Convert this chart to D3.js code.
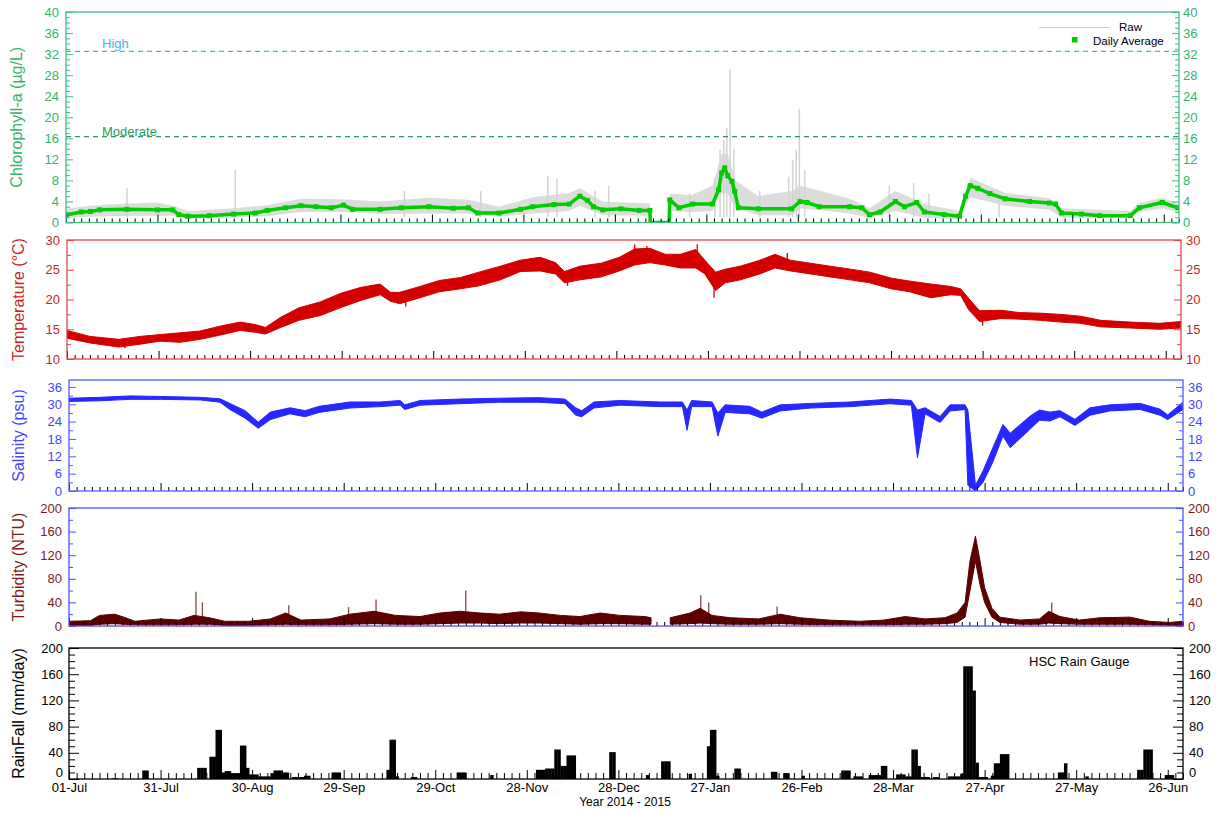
<!DOCTYPE html>
<html>
<head>
<meta charset="utf-8">
<script src="https://cdn.jsdelivr.net/npm/d3@7"></script>
<style>
  body { margin: 0; background: #fff; }
  svg { display: block; }
</style>
</head>
<body>
<div id="chart"></div>
<script>
const W = 1216, H = 814;
const FONT = "Arial, 'Liberation Sans', sans-serif";

// x axis: day number from 01-Jul-2014, a label every 30 days
const xTickLabels = ["01-Jul", "31-Jul", "30-Aug", "29-Sep", "29-Oct", "28-Nov", "28-Dec",
                     "27-Jan", "26-Feb", "28-Mar", "27-Apr", "27-May", "26-Jun"];

// chlorophyll daily average [day, ug/L] (0 = logger gap)
const chlAvg = [
  [0,1.4],[5,2.0],[8,2.1],[11,2.4],[20,2.5],[30,2.4],[35,2.4],[37,1.5],[40,1.2],[47,1.3],
  [55,1.6],[62,1.8],[66,2.3],[72,2.8],[77,3.2],[82,3.0],[87,2.8],[91,3.3],[94,2.5],[103,2.5],
  [110,2.8],[119,3.0],[127,2.7],[132,2.8],[135,1.8],[142,1.8],[149,2.5],[153,3.0],[160,3.4],
  [165,3.5],[168.5,5.0],[171,4.2],[173,3.0],[176,2.4],[182,2.6],[188,2.3],[191.5,2.3],
  [191.6,0],[197.8,0],[198,4.3],[201,2.8],[205.5,3.5],[212,3.5],[214,6.2],[215,9.4],[216,10.4],
  [217,8.9],[218.4,7.8],[219.3,5.9],[220.5,2.8],[227,2.6],[238,2.6],[240.7,4.0],[243,3.8],
  [247,3.0],[257,3.0],[261,2.8],[263.5,1.5],[267,2.0],[272,4.0],[275,3.0],[279,3.8],[281.5,2.0],
  [288,1.5],[293,1.2],[295,5.0],[296.5,7.0],[299,6.5],[303,5.5],[308,4.5],[316,4.0],[322.5,3.7],
  [324.5,3.5],[326.5,1.8],[333,1.6],[339,1.3],[349,1.3],[352,2.8],[359.5,3.8],[364.6,2.8]
];
// chlorophyll raw spread [day, low, high]
const chlRaw = [
  [0,0.9,2.6],[8,1.1,3.2],[20,1.3,3.6],[30,1.3,3.8],[35,1.3,3.2],[40,0.7,2.2],[55,0.9,2.7],
  [66,1.2,3.3],[77,2,4.5],[91,2,4.4],[103,1.6,4],[119,1.7,4.7],[132,1.7,4.3],[142,1.1,3],
  [153,1.7,4.8],[165,2.2,5.6],[168.5,3.2,6.5],[176,1.4,4],[191.5,1.3,3.6],[191.6,0,0],
  [197.8,0,0],[198,2.2,5.5],[205,2,5.2],[212,2.2,7],[215,5.5,13],[217,5.5,13],[219.5,2.7,8],
  [227,1.4,5],[238,1.4,6],[241,2.7,7],[257,1.7,4.5],[263.5,0.9,2.7],[272,2.2,6],[281.5,0.9,3.5],
  [293,0.6,2.2],[296.5,4.8,8.5],[308,3.2,5.6],[322.5,2.4,4.6],[326.5,0.9,2.7],[349,0.8,2.2],
  [352,2,3.7],[359.5,2.7,4.7],[364.6,2,3.7]
];
// single raw chlorophyll spikes [day, ug/L]
const chlSpikes = [
  [20,6.5],[55.5,10],[111,6],[136,6],[158,8.8],[161,8.3],[173.5,6],[178,7],[204.5,5.5],
  [212.8,8.5],[214.5,13.8],[215.7,15.7],[216.7,18],[217.8,29.1],[219,14],[227.5,6],[237,8.7],
  [238.3,11.9],[239.5,13.8],[240.5,21.6],[242.3,10],[270,7],[278,7.5],[283,5.5],[306,5.5]
];
const chlLevelNames = ["High", "Moderate"];
const chlLevelValues = [32.5, 16.3];

// temperature spread [day, low, high] degC
const tempBand = [
  [0,13.5,14.8],[7.5,12.7,13.8],[17,12,13.3],[24,12.5,13.8],[30.5,13,14.1],[37,12.8,14.4],
  [43.6,13.3,14.7],[50,14,15.5],[56.7,14.8,16.2],[61.6,14.5,15.8],[65,14.2,15.3],[70,15.3,17],
  [76,16.5,18.6],[83,17.3,19.6],[89.5,18.6,21],[96,19.8,22],[102.6,20.8,22.6],[106,19.7,21.2],
  [109,19.3,21.2],[115.7,20.3,22.2],[122,21.3,23.2],[129,21.8,23.7],[135,22.3,24.6],
  [142,23.3,25.6],[148.5,24.7,26.6],[155,24.8,27.1],[160,24.3,26.2],[163,22.8,24.7],
  [168,23.3,25.6],[175,23.8,26.1],[181,24.8,27.1],[186,25.8,28.5],[191,26.2,28.6],
  [196,25.8,27.6],[201,25.3,27.6],[206,25.3,28.4],[209,24.3,26.6],[212.5,21.5,24.6],
  [215.7,22.8,25.1],[220.6,23.3,25.6],[227,24.3,26.6],[232,25.3,27.6],[237,24.8,26.6],
  [243.6,24.3,26.1],[250,23.8,25.6],[256.7,23.3,25.1],[263,22.8,24.6],[270,21.8,23.6],
  [276,21.3,23.1],[283,20.3,22.6],[289.5,20.8,22.2],[292.8,20.7,21.8],[295.4,18.3,20.2],
  [299,16.3,18.1],[306,16.8,18.2],[312,16.7,17.8],[319,16.5,17.7],[325.6,16.2,17.5],
  [332,16,17.2],[338.7,15.4,16.5],[348.5,15.2,16.2],[358,15,16],[365,15.2,16.3]
];
// single temperature spikes [day, from, to] degC
const tempSpikes = [
  [19,12.5,11.8],[111,20,18.8],[186,27,29.3],[190,27,29],[206.5,26.5,29.3],[212,22,20.3],
  [164,23.5,22.3],[236,26,27.8],[300,17,15.6]
];

// salinity spread [day, low, high] psu
const salBand = [
  [0,31,32.1],[10,31.2,32.4],[20,31.7,32.9],[30,31.7,32.7],[43,31.5,32.4],[49.5,30.7,31.9],
  [52.7,28.2,30.3],[57.7,25.2,27.8],[62,21.7,23.8],[66,24.7,27.3],[72.4,26.7,28.8],
  [77.3,25.7,27.8],[82,27.2,29.3],[92,28.7,30.8],[102,29.2,30.8],[108.5,29.7,31.3],[110,28.2,29.8],
  [115,29.7,31.3],[128,30.2,31.8],[141,30.7,32.1],[154,30.7,32.3],[162.5,30.2,31.8],[166,26.2,28.8],
  [168,25.7,27.8],[172,28.7,30.8],[180.5,29.7,31.3],[193.6,29.2,30.8],[201,29.2,30.8],
  [202.5,21,28],[204,29.2,31.3],[210.7,29.2,30.8],[212.6,19,27],[215,27.2,29.8],[223,26.7,29.3],
  [227,25.2,27.3],[233,27.7,29.8],[243,28.7,30.3],[256,29.2,30.8],[269,30.2,31.8],[276,29.7,31.3],
  [278,11.5,28],[280.5,26.7,28.8],[285.4,23.7,25.8],[288.7,27.7,29.8],[293.6,28.2,29.8],
  [294.5,2,28],[297,0,2],[299.5,3,7],[302.7,10,15],[306,19,23],[308.4,15,20],[315,21.5,26],
  [318,24.5,28],[321.4,24.2,27.3],[324.7,25.7,27.8],[329.6,22.7,24.8],[334.5,26.2,28.8],
  [341,27.7,29.8],[351,28.2,30.3],[357.5,26.2,28.3],[360,24.7,26.3],[365,28.2,30.8]
];

// turbidity spread [day, low, high] NTU (null = logger gap)
const turbBand = [
  [0,1,8],[7,1,9],[10,3,18],[15,4,20],[18,3,15],[21.6,2,8],[30,2,12],[36,2,10],[41,3,18],
  [46,3,14],[51,1,8],[59,1,8],[66,2,12],[71,3,22],[76,2,10],[85.5,2,12],[92,3,20],[100,4,25],
  [107,3,18],[115,3,16],[121.5,4,22],[128,5,25],[134.7,5,22],[141,4,20],[148,5,24],[154,5,22],
  [161,4,18],[167.4,3,16],[174,4,22],[180.5,4,18],[188.7,3,16],[190.7,3,14],[191,null,null],
  [197,3,14],[203.5,4,22],[206.8,5,30],[210.7,4,18],[216.6,3,14],[226,3,12],[233,4,20],
  [239.5,3,14],[249,2,10],[259,2,8],[267,2,10],[274,3,16],[280.5,3,12],[287,4,14],[291,6,22],
  [293.6,15,40],[295.2,60,110],[297,110,152],[298.5,70,110],[300,40,65],[302.4,15,30],
  [305,6,15],[311.6,3,10],[318,3,12],[321,5,25],[324.7,4,16],[331,3,10],[337.8,3,14],
  [347.6,3,15],[354,2,8],[360.6,1,6],[365,1,8]
];
const turbSpikes = [
  [41.6,58],[43.7,40],[72,35],[91.6,32],[100.6,45],[130,60],[207,52],[209.6,40],[232,33],[322,40]
];

// daily rainfall [day, mm/day], days without rain left out
const rainDaily = [
  [14,1],[15,1],[24,13],[25,13],[42,17],[43,17],[44,17],[46,34],[47,34],[48,75],[49,75],[50,10],
  [51,12],[52,12],[53,9],[54,9],[55,9],[56,51],[57,51],[58,17],[59,7],[60,7],[61,7],[62,4],
  [63,4],[64,4],[65,4],[66,9],[67,13],[68,13],[69,13],[70,10],[71,10],[73,3],[74,3],[75,3],
  [76,3],[77,5],[78,5],[86,10],[87,10],[88,10],[104,14],[105,60],[106,60],[107,4],[112,3],
  [113,3],[127,10],[128,10],[129,10],[138,6],[153,14],[154,14],[155,14],[156,16],[157,16],
  [158,16],[159,45],[160,45],[161,20],[162,20],[163,36],[164,36],[165,36],[177,41],[178,41],
  [189,6],[194,27],[195,27],[196,27],[203,8],[209,50],[210,75],[211,75],[212,5],[218,16],
  [219,16],[230,11],[231,11],[234,9],[235,9],[240,5],[253,13],[254,13],[255,13],[257,4],[258,4],
  [259,4],[262,6],[263,6],[264,6],[265,6],[266,20],[267,20],[271,7],[272,7],[273,7],[274,4],
  [275,4],[276,45],[277,45],[278,20],[279,3],[280,3],[281,3],[283,3],[284,3],[288,4],[289,4],
  [290,4],[291,4],[292,8],[293,172],[294,172],[295,172],[296,135],[297,25],[298,3],[299,3],
  [300,3],[302,5],[303,24],[304,24],[305,38],[306,38],[307,38],[324,10],[325,10],[326,24],
  [333,4],[350,14],[351,14],[352,45],[353,45],[354,45],[359,6],[360,6],[361,6]
];

const svg = d3.select("#chart").append("svg").attr("width", W).attr("height", H)
  .style("font-family", FONT);

const bandArea = (x, y) => d3.area()
  .defined(d => d[1] !== null)
  .x(d => x(d[0])).y0(d => y(d[1])).y1(d => y(d[2]));

const panels = [
  {
    key: "chl", left: 66, right: 1179, top: 12, bottom: 222.5, domain: [0, 40], ticksTo: 40,
    major: 4, minor: 1, frame: "#3fbf80", tick: "#3fbf80", label: "#34b46c",
    title: "Chlorophyll-a (\u00b5g/L)", titleX: 16, padL: 7, padR: 4, xMinor: 4, xMajor: 8,
    draw(g, x, y) {
      g.append("path").datum(chlRaw).attr("fill", "#dcdcdc").attr("d", bandArea(x, y));
      g.selectAll(".spike").data(chlSpikes).join("line")
        .attr("x1", d => x(d[0])).attr("x2", d => x(d[0]))
        .attr("y1", y(1)).attr("y2", d => y(d[1]))
        .attr("stroke", "#d3d3d3").attr("stroke-width", 1.5);
      const levelColors = ["#3cb8e6", "#2a9c62"];
      chlLevelValues.forEach((v, i) => {
        g.append("line").attr("x1", x(0)).attr("x2", x(365)).attr("y1", y(v)).attr("y2", y(v))
          .attr("stroke", levelColors[i]).attr("stroke-width", 1.2).attr("stroke-dasharray", "5,4");
        g.append("text").attr("x", 102).attr("y", y(v) - (i === 0 ? 3.5 : 0.5))
          .attr("font-size", 13).attr("fill", levelColors[i]).text(chlLevelNames[i]);
      });
      g.append("path").datum(chlAvg).attr("fill", "none").attr("stroke", "#00cc00")
        .attr("stroke-width", 3.5).attr("stroke-linejoin", "round")
        .attr("d", d3.line().x(d => x(d[0])).y(d => y(d[1])));
      g.selectAll(".mk").data(chlAvg.filter(d => d[1] > 0)).join("rect")
        .attr("x", d => x(d[0]) - 2.5).attr("y", d => y(d[1]) - 2.5)
        .attr("width", 5).attr("height", 5).attr("fill", "#00cc00");
    }
  },
  {
    key: "temp", left: 67, right: 1181, top: 240, bottom: 359, domain: [10, 30], ticksTo: 30,
    major: 5, minor: 2.5, frame: "#e04848", tick: "#e04848", label: "#cc1f1f",
    title: "Temperature (\u00b0C)", titleX: 18, padL: 7, padR: 5, xMinor: 4, xMajor: 8,
    draw(g, x, y) {
      g.append("path").datum(tempBand).attr("fill", "#d40000").attr("stroke", "#d40000")
        .attr("stroke-width", 1).attr("d", bandArea(x, y));
      g.selectAll(".spike").data(tempSpikes).join("line")
        .attr("x1", d => x(d[0])).attr("x2", d => x(d[0]))
        .attr("y1", d => y(d[1])).attr("y2", d => y(d[2]))
        .attr("stroke", "#d40000").attr("stroke-width", 1.3);
    }
  },
  {
    key: "sal", left: 69, right: 1183, top: 380, bottom: 491, domain: [0, 38.4], ticksTo: 36,
    major: 6, minor: 3, frame: "#5858ff", tick: "#5858ff", label: "#4646ff",
    title: "Salinity (psu)", titleX: 18, padL: 7, padR: 5, xMinor: 4, xMajor: 8,
    draw(g, x, y) {
      g.append("path").datum(salBand).attr("fill", "#2727ff").attr("stroke", "#2727ff")
        .attr("stroke-width", 1).attr("d", bandArea(x, y));
    }
  },
  {
    key: "turb", left: 69, right: 1183, top: 508, bottom: 626, domain: [0, 200], ticksTo: 200,
    major: 40, minor: 20, frame: "#4d4dff", tick: "#4d4dff", label: "#7a1c1c",
    title: "Turbidity (NTU)", titleX: 18, padL: 7, padR: 5, xMinor: 4, xMajor: 8,
    draw(g, x, y) {
      g.selectAll(".spike").data(turbSpikes).join("line")
        .attr("x1", d => x(d[0])).attr("x2", d => x(d[0]))
        .attr("y1", y(5)).attr("y2", d => y(d[1]))
        .attr("stroke", "#8a4545").attr("stroke-width", 1.3);
      g.append("path").datum(turbBand).attr("fill", "#5c0000").attr("stroke", "#5c0000")
        .attr("stroke-width", 1).attr("d", bandArea(x, y));
    }
  },
  {
    key: "rain", left: 69, right: 1183, top: 648, bottom: 779, domain: [0, 200], ticksTo: 200,
    major: 40, minor: 10, frame: "#000", tick: "#000", label: "#000",
    title: "RainFall (mm/day)", titleX: 18, padL: 6, padR: 6, xMinor: 6, xMajor: 9,
    xLabels: true,
    draw(g, x, y) {
      g.selectAll(".bar").data(rainDaily).join("rect")
        .attr("x", d => x(d[0])).attr("width", d => x(d[0] + 1) - x(d[0]) + 0.4)
        .attr("y", d => y(d[1])).attr("height", d => y(0) - y(d[1]))
        .attr("fill", "#000");
    }
  }
];

const xMajorTicks = d3.range(0, 366, 30);
const xMinorTicks = d3.range(0, 366, 2.5).filter(d => d % 30 !== 0);

function styleAxis(g, lineColor, textColor, size) {
  g.attr("font-family", FONT).attr("font-size", size);
  g.select(".domain").remove();
  g.selectAll("line").attr("stroke", lineColor);
  g.selectAll("text").attr("fill", textColor);
}

panels.forEach(p => {
  const x = d3.scaleLinear().domain([0, 365]).range([p.left, p.right]);
  const y = d3.scaleLinear().domain(p.domain).range([p.bottom, p.top]);

  svg.append("clipPath").attr("id", "clip-" + p.key).append("rect")
    .attr("x", p.left).attr("y", p.top)
    .attr("width", p.right - p.left).attr("height", p.bottom - p.top);
  const plot = svg.append("g").attr("clip-path", `url(#clip-${p.key})`);
  p.draw(plot, x, y);

  // inner date ticks along the bottom
  const xMin = svg.append("g").attr("transform", `translate(0,${p.bottom})`)
    .call(d3.axisBottom(x).tickValues(xMinorTicks).tickSize(-p.xMinor).tickFormat(""));
  styleAxis(xMin, "#000", "#000", 13);
  const xMaj = svg.append("g").attr("transform", `translate(0,${p.bottom})`)
    .call(d3.axisBottom(x).tickValues(xMajorTicks).tickSize(-p.xMajor).tickPadding(4)
      .tickFormat((d, i) => p.xLabels ? xTickLabels[i] : ""));
  styleAxis(xMaj, "#000", "#000", 13);

  // frame
  svg.append("rect").attr("x", p.left).attr("y", p.top)
    .attr("width", p.right - p.left).attr("height", p.bottom - p.top)
    .attr("fill", "none").attr("stroke", p.frame).attr("stroke-width", 1.3);

  const majors = d3.range(p.domain[0], p.ticksTo + 1e-6, p.major);
  const minors = d3.range(p.domain[0], p.ticksTo + 1e-6, p.minor)
    .filter(v => !majors.some(m => Math.abs(m - v) < 1e-6));
  const big = p.key === "rain" ? 10 : 7;
  const small = p.key === "rain" ? 6 : 4;

  [[d3.axisLeft, p.left, p.padL], [d3.axisRight, p.right, p.padR]].forEach(([ax, pos, pad]) => {
    const gMin = svg.append("g").attr("transform", `translate(${pos},0)`)
      .call(ax(y).tickValues(minors).tickSize(-small).tickFormat(""));
    styleAxis(gMin, p.tick, p.label, 13);
    const gMaj = svg.append("g").attr("transform", `translate(${pos},0)`)
      .call(ax(y).tickValues(majors).tickSize(-big).tickPadding(pad).tickFormat(d3.format("d")));
    styleAxis(gMaj, p.tick, p.label, 13);
    // keep the bottom "0" of the rain axis clear of the date labels
    if (p.key === "rain") gMaj.selectAll("text").attr("dy", d => d === 0 ? "-0.2em" : "0.32em");
  });

  svg.append("text")
    .attr("transform", `translate(${p.titleX},${(p.top + p.bottom) / 2}) rotate(-90)`)
    .attr("text-anchor", "middle").attr("dy", "0.35em")
    .attr("font-size", 16).attr("fill", p.label).text(p.title);
});

// chlorophyll legend
svg.append("line").attr("x1", 1039).attr("x2", 1110).attr("y1", 27.5).attr("y2", 27.5)
  .attr("stroke", "#cfcfcf").attr("stroke-width", 1.2);
svg.append("text").attr("x", 1119).attr("y", 31).attr("font-size", 11.5).text("Raw");
svg.append("rect").attr("x", 1072).attr("y", 37).attr("width", 5.5).attr("height", 5.5)
  .attr("fill", "#00cc00");
svg.append("text").attr("x", 1093).attr("y", 44.5).attr("font-size", 11.5).text("Daily Average");

// rain gauge caption and x title
svg.append("text").attr("x", 1029).attr("y", 666).attr("font-size", 13).text("HSC Rain Gauge");
svg.append("text").attr("x", 625).attr("y", 806).attr("text-anchor", "middle")
  .attr("font-size", 12).text("Year 2014 - 2015");
</script>
</body>
</html>
